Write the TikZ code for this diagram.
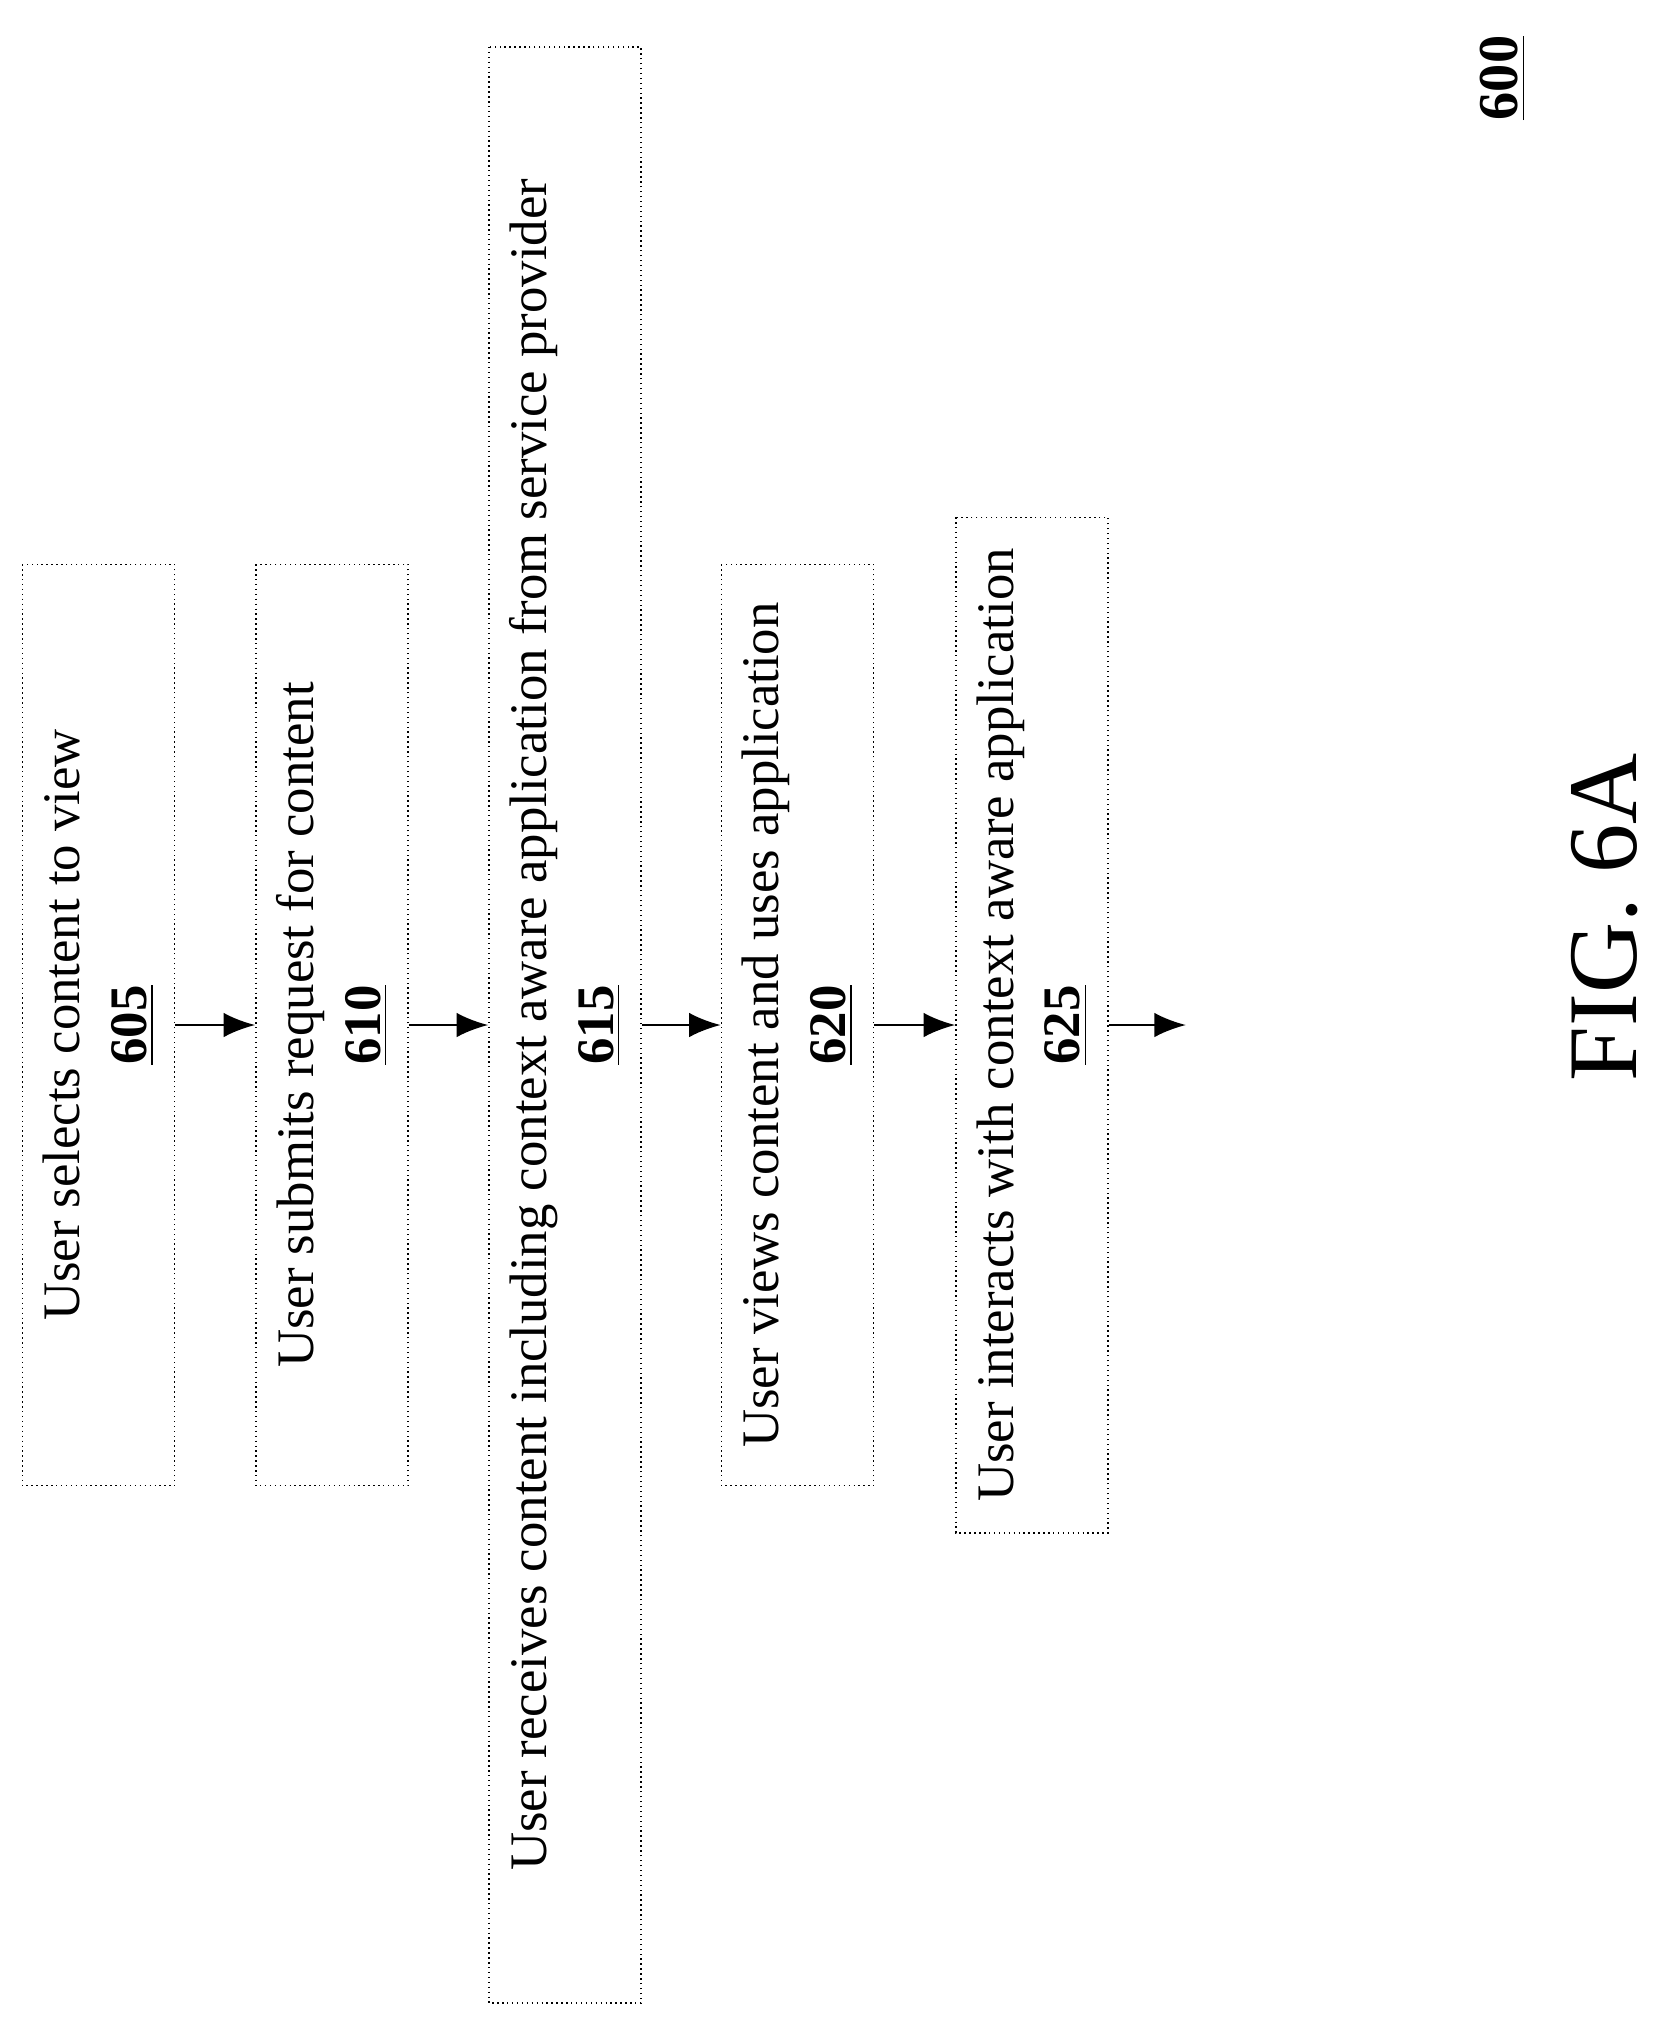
\documentclass[tikz,border=0pt]{standalone}
\usepackage{fontspec}
\setmainfont{Liberation Serif}
\usetikzlibrary{arrows.meta}
\begin{document}
\begin{tikzpicture}[x=0.01cm, y=-0.01cm,
  stepbox/.style={draw, densely dotted, rotate=90, align=center, inner sep=0pt,
    minimum height=1.52cm, font=\fontsize{15}{19}\selectfont},
  flow/.style={-{Latex[length=9pt,width=7pt]}, thick}]
  \useasboundingbox (0,0) rectangle (1654,2026);
  \node[stepbox, minimum width=9.21cm] (605) at (98.5,1025) {User selects content to view\\ \textbf{\underline{605}}};
  \node[stepbox, minimum width=9.21cm] (610) at (332,1025) {User submits request for content\\ \textbf{\underline{610}}};
  \node[stepbox, minimum width=19.55cm] (615) at (565,1025) {User receives content including context aware application from service provider\\ \textbf{\underline{615}}};
  \node[stepbox, minimum width=9.21cm] (620) at (797.5,1025) {User views content and uses application\\ \textbf{\underline{620}}};
  \node[stepbox, minimum width=10.15cm] (625) at (1032,1025) {User interacts with context aware application\\ \textbf{\underline{625}}};
  \coordinate (end) at (1186,1025);

  \draw[flow] (605.south) -- (610.north);
  \draw[flow] (610.south) -- (615.north);
  \draw[flow] (615.south) -- (620.north);
  \draw[flow] (620.south) -- (625.north);
  \draw[flow] (625.south) -- (end);

  \node[rotate=90, font=\fontsize{16}{18}\selectfont\bfseries] (num) at (1503,78) {\underline{600}};
  \node[rotate=90, font=\fontsize{28}{32}\selectfont] (fig) at (1605,917) {FIG. 6A};
\end{tikzpicture}
\end{document}
